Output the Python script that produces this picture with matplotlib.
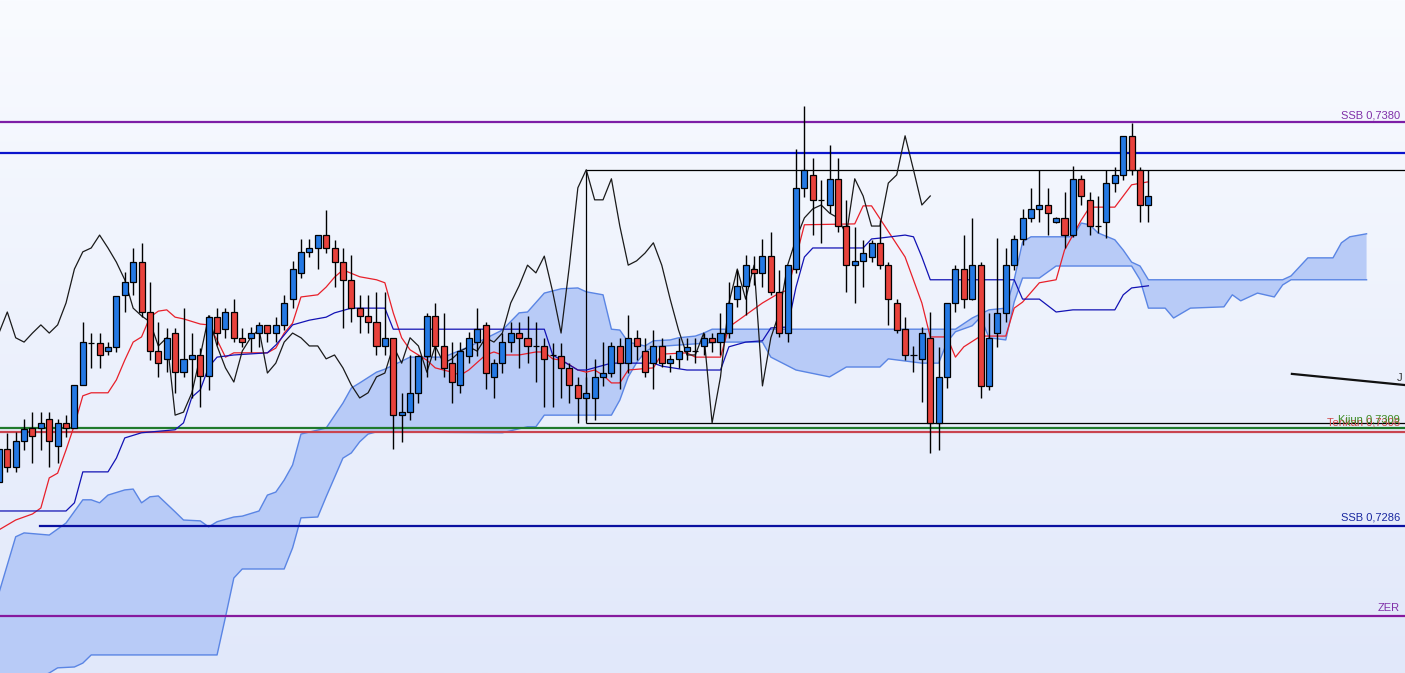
import numpy as np
import matplotlib
matplotlib.use("Agg")
import matplotlib.pyplot as plt
from matplotlib.colors import LinearSegmentedColormap

# candles, bar index starts at -1 (partly cut at the left edge)
FIRST_BAR = -1
OPEN = [0.72962, 0.73039, 0.72997, 0.73058, 0.73088, 0.73088, 0.73109, 0.73046, 0.73100, 0.73088,
        0.73188, 0.73286, 0.73286, 0.73267, 0.73277, 0.73398, 0.73428, 0.73474, 0.73358, 0.73267,
        0.73249, 0.73309, 0.73218, 0.73249, 0.73258, 0.73209, 0.73346, 0.73318, 0.73358, 0.73298,
        0.73298, 0.73309, 0.73328, 0.73309, 0.73328, 0.73388, 0.73449, 0.73498, 0.73507, 0.73537,
        0.73507, 0.73474, 0.73433, 0.73367, 0.73349, 0.73335, 0.73279, 0.73298, 0.73118, 0.73125,
        0.73170, 0.73256, 0.73349, 0.73279, 0.73239, 0.73188, 0.73256, 0.73288, 0.73328, 0.73207,
        0.73239, 0.73288, 0.73309, 0.73298, 0.73279, 0.73279, 0.73258, 0.73256, 0.73228, 0.73188,
        0.73158, 0.73158, 0.73207, 0.73216, 0.73279, 0.73239, 0.73298, 0.73267, 0.73239, 0.73279,
        0.73239, 0.73249, 0.73267, 0.73267, 0.73279, 0.73298, 0.73288, 0.73309, 0.73388, 0.73419,
        0.73458, 0.73449, 0.73488, 0.73405, 0.73309, 0.73458, 0.73647, 0.73677, 0.73619, 0.73607,
        0.73668, 0.73558, 0.73467, 0.73477, 0.73486, 0.73519, 0.73467, 0.73379, 0.73318, 0.73258,
        0.73249, 0.73298, 0.73100, 0.73207, 0.73379, 0.73458, 0.73388, 0.73467, 0.73186, 0.73309,
        0.73356, 0.73467, 0.73528, 0.73577, 0.73598, 0.73607, 0.73567, 0.73577, 0.73537, 0.73668,
        0.73619, 0.73558, 0.73567, 0.73658, 0.73677, 0.73768, 0.73689, 0.73607]
HIGH = [0.73060, 0.73077, 0.73079, 0.73109, 0.73125, 0.73125, 0.73125, 0.73109, 0.73118, 0.73188,
        0.73335, 0.73309, 0.73309, 0.73288, 0.73395, 0.73451, 0.73507, 0.73519, 0.73428, 0.73335,
        0.73321, 0.73321, 0.73367, 0.73309, 0.73274, 0.73351, 0.73367, 0.73367, 0.73388, 0.73321,
        0.73323, 0.73335, 0.73328, 0.73346, 0.73398, 0.73477, 0.73528, 0.73528, 0.73537, 0.73595,
        0.73526, 0.73507, 0.73491, 0.73398, 0.73398, 0.73405, 0.73405, 0.73298, 0.73170, 0.73258,
        0.73258, 0.73356, 0.73379, 0.73356, 0.73288, 0.73288, 0.73312, 0.73367, 0.73335, 0.73249,
        0.73309, 0.73335, 0.73335, 0.73349, 0.73335, 0.73298, 0.73286, 0.73286, 0.73239, 0.73207,
        0.73207, 0.73249, 0.73288, 0.73288, 0.73298, 0.73351, 0.73316, 0.73298, 0.73316, 0.73298,
        0.73258, 0.73298, 0.73298, 0.73298, 0.73309, 0.73309, 0.73356, 0.73428, 0.73456, 0.73491,
        0.73488, 0.73528, 0.73544, 0.73456, 0.73467, 0.73737, 0.73837, 0.73716, 0.73665, 0.73747,
        0.73716, 0.73619, 0.73556, 0.73526, 0.73526, 0.73572, 0.73474, 0.73388, 0.73346, 0.73279,
        0.73323, 0.73358, 0.73277, 0.73379, 0.73467, 0.73537, 0.73577, 0.73474, 0.73356, 0.73530,
        0.73507, 0.73537, 0.73598, 0.73647, 0.73689, 0.73647, 0.73579, 0.73637, 0.73698, 0.73677,
        0.73637, 0.73628, 0.73689, 0.73695, 0.73768, 0.73798, 0.73695, 0.73689]
LOW = [0.72949, 0.72986, 0.72986, 0.73037, 0.73007, 0.73037, 0.72997, 0.73007, 0.73067, 0.73088,
       0.73188, 0.73228, 0.73228, 0.73258, 0.73265, 0.73358, 0.73398, 0.73346, 0.73246, 0.73207,
       0.73218, 0.73170, 0.73207, 0.73158, 0.73137, 0.73177, 0.73281, 0.73298, 0.73288, 0.73277,
       0.73265, 0.73277, 0.73288, 0.73288, 0.73316, 0.73367, 0.73437, 0.73486, 0.73458, 0.73495,
       0.73416, 0.73321, 0.73335, 0.73309, 0.73309, 0.73258, 0.73258, 0.73039, 0.73056, 0.73107,
       0.73146, 0.73207, 0.73246, 0.73207, 0.73146, 0.73170, 0.73239, 0.73256, 0.73179, 0.73158,
       0.73216, 0.73265, 0.73228, 0.73239, 0.73195, 0.73137, 0.73137, 0.73158, 0.73146, 0.73100,
       0.73107, 0.73107, 0.73186, 0.73207, 0.73179, 0.73216, 0.73246, 0.73207, 0.73179, 0.73230,
       0.73218, 0.73228, 0.73246, 0.73239, 0.73258, 0.73265, 0.73258, 0.73298, 0.73370, 0.73351,
       0.73421, 0.73416, 0.73398, 0.73300, 0.73288, 0.73449, 0.73626, 0.73537, 0.73519, 0.73588,
       0.73544, 0.73405, 0.73379, 0.73416, 0.73474, 0.73458, 0.73328, 0.73309, 0.73246, 0.73218,
       0.73149, 0.73030, 0.73037, 0.73181, 0.73358, 0.73367, 0.73386, 0.73158, 0.73177, 0.73277,
       0.73335, 0.73456, 0.73514, 0.73567, 0.73567, 0.73537, 0.73565, 0.73507, 0.73533, 0.73607,
       0.73537, 0.73542, 0.73530, 0.73637, 0.73665, 0.73677, 0.73567, 0.73567]
CLOSE = [0.73039, 0.72997, 0.73058, 0.73086, 0.73070, 0.73100, 0.73058, 0.73100, 0.73088, 0.73188,
         0.73288, 0.73286, 0.73258, 0.73277, 0.73395, 0.73428, 0.73474, 0.73358, 0.73267, 0.73239,
         0.73298, 0.73218, 0.73249, 0.73258, 0.73209, 0.73346, 0.73309, 0.73358, 0.73298, 0.73288,
         0.73309, 0.73328, 0.73309, 0.73328, 0.73379, 0.73458, 0.73498, 0.73507, 0.73537, 0.73507,
         0.73474, 0.73433, 0.73367, 0.73349, 0.73335, 0.73279, 0.73298, 0.73118, 0.73125, 0.73170,
         0.73256, 0.73349, 0.73279, 0.73228, 0.73195, 0.73267, 0.73298, 0.73318, 0.73216, 0.73239,
         0.73288, 0.73309, 0.73298, 0.73279, 0.73279, 0.73249, 0.73258, 0.73228, 0.73188, 0.73158,
         0.73170, 0.73207, 0.73216, 0.73279, 0.73239, 0.73298, 0.73279, 0.73218, 0.73279, 0.73239,
         0.73249, 0.73267, 0.73277, 0.73267, 0.73298, 0.73288, 0.73309, 0.73379, 0.73419, 0.73467,
         0.73449, 0.73488, 0.73405, 0.73309, 0.73467, 0.73647, 0.73689, 0.73619, 0.73619, 0.73668,
         0.73558, 0.73467, 0.73477, 0.73495, 0.73519, 0.73467, 0.73388, 0.73316, 0.73258, 0.73258,
         0.73309, 0.73100, 0.73207, 0.73379, 0.73458, 0.73388, 0.73467, 0.73186, 0.73298, 0.73356,
         0.73467, 0.73528, 0.73577, 0.73598, 0.73607, 0.73588, 0.73577, 0.73537, 0.73668, 0.73628,
         0.73558, 0.73558, 0.73658, 0.73677, 0.73768, 0.73689, 0.73607, 0.73628]

# ichimoku lines: (bar index, price)
TENKAN = [(-1, 0.72851), (1, 0.72874), (3, 0.72888), (4, 0.72902), (5, 0.72972), (6, 0.72983),
          (7, 0.73037), (8, 0.73095), (9, 0.73163), (10, 0.73170), (12, 0.73170), (13, 0.73200),
          (14, 0.73246), (15, 0.73288), (16, 0.73300), (17, 0.73346), (18, 0.73360), (19, 0.73363),
          (20, 0.73346), (21, 0.73342), (23, 0.73330), (24, 0.73328), (25, 0.73293), (26, 0.73253),
          (27, 0.73263), (31, 0.73263), (32, 0.73274), (33, 0.73309), (34, 0.73332), (35, 0.73393),
          (37, 0.73398), (38, 0.73416), (39, 0.73439), (40, 0.73456), (42, 0.73440), (44, 0.73433),
          (45, 0.73426), (46, 0.73356), (47, 0.73298), (48, 0.73270), (50, 0.73246), (51, 0.73228),
          (53, 0.73218), (54, 0.73211), (55, 0.73223), (57, 0.73258), (58, 0.73265), (59, 0.73258),
          (61, 0.73258), (63, 0.73265), (64, 0.73265), (65, 0.73249), (66, 0.73246), (67, 0.73235),
          (68, 0.73223), (69, 0.73218), (70, 0.73223), (71, 0.73211), (72, 0.73193), (73, 0.73193),
          (74, 0.73223), (77, 0.73228), (78, 0.73260), (81, 0.73263), (82, 0.73253), (85, 0.73253),
          (86, 0.73323), (88, 0.73351), (90, 0.73379), (92, 0.73402), (93, 0.73409), (95, 0.73561),
          (101, 0.73563), (102, 0.73605), (103, 0.73605), (107, 0.73486), (109, 0.73379), (110, 0.73300),
          (112, 0.73300), (113, 0.73253), (114, 0.73277), (116, 0.73302), (119, 0.73302), (120, 0.73367),
          (121, 0.73381), (123, 0.73426), (125, 0.73433), (126, 0.73502), (128, 0.73572), (129, 0.73602),
          (132, 0.73602), (134, 0.73654), (136, 0.73661)]
KIJUN = [(-1, 0.72895), (7, 0.72895), (8, 0.72914), (9, 0.72986), (12, 0.72986), (13, 0.73018),
         (14, 0.73065), (16, 0.73077), (20, 0.73084), (21, 0.73100), (22, 0.73160), (23, 0.73177),
         (24, 0.73230), (25, 0.73253), (27, 0.73258), (31, 0.73263), (32, 0.73281), (34, 0.73328),
         (36, 0.73339), (38, 0.73346), (39, 0.73356), (41, 0.73367), (45, 0.73367), (46, 0.73318),
         (64, 0.73318), (65, 0.73258), (68, 0.73223), (69, 0.73223), (72, 0.73239), (77, 0.73239),
         (78, 0.73232), (81, 0.73223), (85, 0.73223), (86, 0.73277), (88, 0.73288), (90, 0.73291),
         (91, 0.73321), (93, 0.73323), (94, 0.73416), (95, 0.73486), (96, 0.73507), (102, 0.73507),
         (103, 0.73528), (104, 0.73530), (107, 0.73537), (108, 0.73533), (109, 0.73486), (110, 0.73433),
         (120, 0.73433), (121, 0.73388), (123, 0.73388), (125, 0.73358), (127, 0.73363), (132, 0.73363),
         (133, 0.73398), (134, 0.73414), (136, 0.73419)]
CLOUD_TOP = [(-1, 0.72704), (1, 0.72835), (2, 0.72844), (5, 0.72839), (7, 0.72867), (9, 0.72921),
             (10, 0.72921), (11, 0.72914), (12, 0.72932), (14, 0.72944), (15, 0.72946), (16, 0.72914),
             (17, 0.72928), (18, 0.72930), (20, 0.72893), (21, 0.72874), (23, 0.72872), (24, 0.72858),
             (25, 0.72870), (27, 0.72881), (28, 0.72883), (30, 0.72895), (31, 0.72932), (32, 0.72939),
             (33, 0.72967), (34, 0.73002), (35, 0.73074), (38, 0.73088), (40, 0.73146), (41, 0.73181),
             (42, 0.73193), (44, 0.73218), (45, 0.73225), (48, 0.73253), (52, 0.73253), (55, 0.73277),
             (59, 0.73316), (61, 0.73356), (62, 0.73358), (64, 0.73402), (66, 0.73412), (68, 0.73414),
             (69, 0.73405), (71, 0.73398), (72, 0.73318), (73, 0.73316), (74, 0.73288), (76, 0.73279),
             (77, 0.73291), (79, 0.73293), (80, 0.73298), (82, 0.73302), (83, 0.73309), (84, 0.73318),
             (113, 0.73318), (115, 0.73344), (117, 0.73363), (118, 0.73365), (119, 0.73367), (120, 0.73433),
             (121, 0.73521), (122, 0.73533), (127, 0.73533), (128, 0.73565), (129, 0.73561), (130, 0.73542),
             (132, 0.73526), (133, 0.73502), (134, 0.73474), (135, 0.73465), (136, 0.73433), (152, 0.73433),
             (153, 0.73442), (155, 0.73484), (158, 0.73484), (159, 0.73519), (160, 0.73533), (162, 0.73540)]
CLOUD_BOTTOM = [(-1, 0.72470), (5, 0.72518), (6, 0.72530), (8, 0.72532), (9, 0.72541), (10, 0.72560),
                (25, 0.72560), (26, 0.72648), (27, 0.72739), (28, 0.72760), (33, 0.72760), (34, 0.72809),
                (35, 0.72879), (37, 0.72881), (38, 0.72928), (40, 0.73018), (41, 0.73030), (42, 0.73056),
                (43, 0.73074), (44, 0.73079), (59, 0.73077), (62, 0.73091), (63, 0.73091), (64, 0.73118),
                (72, 0.73118), (73, 0.73153), (74, 0.73207), (75, 0.73240), (76, 0.73265), (77, 0.73277),
                (85, 0.73288), (90, 0.73288), (91, 0.73253), (94, 0.73223), (98, 0.73207), (100, 0.73230),
                (104, 0.73230), (105, 0.73249), (109, 0.73239), (111, 0.73239), (112, 0.73288), (113, 0.73312),
                (115, 0.73326), (116, 0.73346), (117, 0.73298), (119, 0.73293), (120, 0.73381), (121, 0.73437),
                (123, 0.73437), (125, 0.73465), (134, 0.73465), (135, 0.73433), (136, 0.73367), (138, 0.73367),
                (139, 0.73344), (141, 0.73367), (145, 0.73370), (146, 0.73398), (147, 0.73384), (149, 0.73402),
                (151, 0.73393), (152, 0.73421), (153, 0.73433), (162, 0.73433)]
CHIKOU_SHIFT = 26

# horizontal levels and their labels
SSB_HIGH = 0.7380
BLUE_LEVEL = 0.73728
BOX_TOP, BOX_BOTTOM, BOX_START = 0.73688, 0.73100, 69
KIJUN_LEVEL = 0.73088
TENKAN_LEVEL = 0.73079
SSB_LOW = 0.7286
ZER_LEVEL = 0.72651
TREND = [(153.1, 0.73214), (166.6, 0.73188)]

XMIN, XMAX = -0.87, 166.58
YMIN, YMAX = 0.72518, 0.74084

BLUE = '#2479e4'
RED = '#e8423c'

fig = plt.figure(figsize=(14.05, 6.73), dpi=100)
ax = fig.add_axes([0, 0, 1, 1])
ax.set_xlim(XMIN, XMAX)
ax.set_ylim(YMIN, YMAX)
ax.axis('off')

# background gradient, light blue at the bottom to white at the top
bg = LinearSegmentedColormap.from_list('bg', ['#e1e8fa', '#f9fbff'])
ax.imshow(np.linspace(0, 1, 256).reshape(-1, 1), cmap=bg, origin='lower',
          extent=[XMIN, XMAX, YMIN, YMAX], aspect='auto', zorder=0)

# cloud
tx, ty = zip(*CLOUD_TOP)
bx, by = zip(*CLOUD_BOTTOM)
ax.fill(list(tx) + list(bx[::-1]), list(ty) + list(by[::-1]),
        color='#b8cbf7', lw=0, zorder=1)
ax.plot(tx, ty, color='#5a85e4', lw=1.0, zorder=2)
ax.plot(bx, by, color='#5a85e4', lw=1.0, zorder=2)

# horizontal levels
ax.axhline(SSB_HIGH, color='#7d1ea6', lw=1.6, zorder=3)
ax.axhline(BLUE_LEVEL, color='#0a14cc', lw=1.6, zorder=3)
ax.hlines([BOX_TOP, BOX_BOTTOM], BOX_START, XMAX, color='black', lw=0.9, zorder=3)
ax.vlines(BOX_START, BOX_BOTTOM, BOX_TOP, color='black', lw=0.9, zorder=3)
ax.axhline(KIJUN_LEVEL, color='#1f7a2c', lw=1.6, zorder=3)
ax.axhline(TENKAN_LEVEL, color='#c9444f', lw=1.6, zorder=3)
ax.axhline(SSB_LOW, xmin=0.0285, color='#0a10a0', lw=1.6, zorder=3)
ax.axhline(ZER_LEVEL, color='#861a9e', lw=1.6, zorder=3)
trx, tr_y = zip(*TREND)
ax.plot(trx, tr_y, color='#111111', lw=1.6, zorder=3)

lbl = dict(ha='right', va='center', fontsize=8, family='Liberation Sans', zorder=9)
ax.text(166.0, 0.73816, 'SSB 0,7380', color='#8030a8', **lbl)
ax.text(166.0, 0.73100, 'Tenkan 0,7308', color='#d04848', **lbl)
ax.text(166.0, 0.73106, 'Kijun 0,7309', color='#3d8a22', **lbl)
ax.text(166.0, 0.72879, 'SSB 0,7286', color='#1a28a0', **lbl)
ax.text(166.0, 0.72669, 'ZER', color='#8030a8', **lbl)
ax.text(165.6, 0.73205, 'J', color='#333333', ha='left', va='center', fontsize=8,
        family='Liberation Sans', zorder=9)

# tenkan, kijun, chikou
kx, ky = zip(*TENKAN)
ax.plot(kx, ky, color='#e8202a', lw=0.9, zorder=4)
kx, ky = zip(*KIJUN)
ax.plot(kx, ky, color='#1212b4', lw=0.9, zorder=4)

bars = np.arange(len(CLOSE)) + FIRST_BAR
o, h, l, c = (np.array(a) for a in (OPEN, HIGH, LOW, CLOSE))
ax.plot(bars - CHIKOU_SHIFT, c, color='#1a1a1a', lw=0.9, zorder=4)

# candles
ax.vlines(bars, l, h, color='black', lw=1.0, zorder=5)
ax.bar(bars, c - o, bottom=o, width=0.72, color=np.where(c >= o, BLUE, RED),
       edgecolor='black', linewidth=0.9, zorder=6)

fig.savefig('out.png', dpi=100)
